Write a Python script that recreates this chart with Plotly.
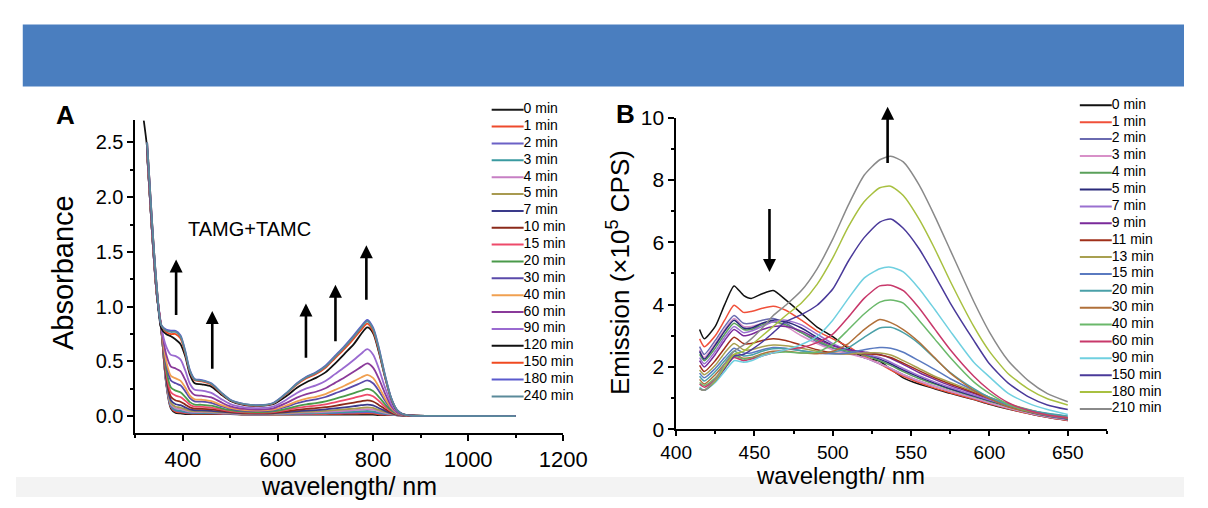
import plotly.graph_objects as go

W, H = 1208, 508

# ---------------- Panel A data (absorbance) ----------------
WL_A = [318, 325, 335, 345, 355, 365, 375, 385, 395, 405, 415, 425, 440, 460, 480, 500, 530, 560, 590,
        620, 640, 660, 680, 700, 720, 740, 760, 775, 788, 800, 812, 825, 838, 850, 862, 880, 920, 1100]
LABELS_A = ["0 min", "1 min", "2 min", "3 min", "4 min", "5 min", "7 min", "10 min", "15 min", "20 min",
            "30 min", "40 min", "60 min", "90 min", "120 min", "150 min", "180 min", "240 min"]
COLORS_A = ["#1a1a1a", "#ee4a2c", "#6b61c6", "#3a9aa0", "#c77fc4", "#a89a50", "#3a3a8a", "#8b2a1a",
            "#ee4a6a", "#4a9a4a", "#5a4aaa", "#f0a050", "#8a3a9a", "#9a6ad0", "#111111", "#f04a20",
            "#5a5acd", "#5a8a9a"]
a0 = [None, 2.40, 1.70, 1.12, 0.78, 0.30, 0.07, 0.03, 0.025, 0.02, 0.02, 0.02, 0.02, 0.02, 0.02, 0.02, 0.015, 0.015, 0.015, 0.015, 0.015, 0.015, 0.015, 0.015, 0.015, 0.015, 0.015, 0.015, 0.015, 0.015, 0.01, 0.01, 0.01, 0.008, 0.006, 0.004, 0.002, 0.0]
a1 = [None, 2.40, 1.70, 1.12, 0.78, 0.31, 0.08, 0.04, 0.034, 0.027, 0.025, 0.024, 0.024, 0.023, 0.022, 0.022, 0.016, 0.016, 0.016, 0.017, 0.018, 0.019, 0.02, 0.02, 0.021, 0.023, 0.024, 0.025, 0.025, 0.025, 0.017, 0.014, 0.012, 0.009, 0.006, 0.004, 0.002, 0.0]
a2 = [None, 2.40, 1.70, 1.12, 0.78, 0.31, 0.088, 0.049, 0.043, 0.035, 0.03, 0.028, 0.028, 0.027, 0.025, 0.023, 0.017, 0.017, 0.018, 0.02, 0.022, 0.024, 0.025, 0.026, 0.028, 0.031, 0.033, 0.035, 0.037, 0.035, 0.026, 0.019, 0.014, 0.009, 0.006, 0.004, 0.002, 0.0]
a3 = [None, 2.40, 1.70, 1.12, 0.78, 0.318, 0.096, 0.058, 0.051, 0.041, 0.035, 0.032, 0.031, 0.03, 0.027, 0.025, 0.019, 0.018, 0.019, 0.023, 0.026, 0.028, 0.029, 0.031, 0.035, 0.038, 0.042, 0.045, 0.047, 0.044, 0.033, 0.024, 0.016, 0.01, 0.007, 0.004, 0.002, 0.0]
a4 = [None, 2.41, 1.71, 1.12, 0.78, 0.327, 0.109, 0.071, 0.064, 0.052, 0.042, 0.038, 0.037, 0.035, 0.031, 0.027, 0.02, 0.02, 0.021, 0.026, 0.031, 0.034, 0.036, 0.039, 0.044, 0.049, 0.055, 0.059, 0.063, 0.059, 0.044, 0.03, 0.019, 0.011, 0.007, 0.004, 0.002, 0.0]
a5 = [None, 2.41, 1.71, 1.13, 0.78, 0.337, 0.123, 0.086, 0.079, 0.064, 0.05, 0.044, 0.043, 0.041, 0.035, 0.03, 0.022, 0.021, 0.023, 0.03, 0.036, 0.041, 0.044, 0.048, 0.055, 0.062, 0.069, 0.075, 0.08, 0.075, 0.057, 0.038, 0.022, 0.012, 0.007, 0.004, 0.002, 0.0]
a7 = [None, 2.41, 1.71, 1.13, 0.785, 0.35, 0.145, 0.109, 0.10, 0.081, 0.062, 0.054, 0.053, 0.049, 0.041, 0.034, 0.025, 0.024, 0.026, 0.037, 0.045, 0.051, 0.055, 0.062, 0.071, 0.081, 0.091, 0.10, 0.106, 0.098, 0.075, 0.049, 0.027, 0.013, 0.007, 0.004, 0.002, 0.0]
a10 = [None, 2.42, 1.72, 1.13, 0.79, 0.374, 0.177, 0.143, 0.132, 0.107, 0.08, 0.068, 0.067, 0.062, 0.05, 0.04, 0.029, 0.028, 0.031, 0.046, 0.058, 0.067, 0.073, 0.082, 0.095, 0.109, 0.124, 0.136, 0.145, 0.134, 0.103, 0.066, 0.034, 0.016, 0.008, 0.004, 0.002, 0.0]
a15 = [None, 2.42, 1.72, 1.14, 0.79, 0.40, 0.219, 0.188, 0.175, 0.142, 0.104, 0.087, 0.085, 0.079, 0.062, 0.047, 0.035, 0.033, 0.037, 0.058, 0.075, 0.087, 0.096, 0.108, 0.127, 0.146, 0.167, 0.184, 0.197, 0.182, 0.14, 0.088, 0.044, 0.019, 0.009, 0.004, 0.002, 0.0]
a20 = [None, 2.43, 1.73, 1.14, 0.79, 0.432, 0.262, 0.233, 0.218, 0.177, 0.128, 0.106, 0.104, 0.096, 0.074, 0.055, 0.041, 0.038, 0.043, 0.07, 0.092, 0.108, 0.119, 0.135, 0.159, 0.184, 0.211, 0.232, 0.249, 0.23, 0.177, 0.11, 0.053, 0.022, 0.01, 0.004, 0.002, 0.0]
a30 = [None, 2.44, 1.74, 1.15, 0.80, 0.476, 0.326, 0.30, 0.282, 0.229, 0.164, 0.135, 0.132, 0.121, 0.092, 0.067, 0.049, 0.046, 0.053, 0.089, 0.118, 0.139, 0.154, 0.175, 0.208, 0.24, 0.276, 0.305, 0.326, 0.301, 0.233, 0.143, 0.068, 0.027, 0.011, 0.004, 0.002, 0.0]
a40 = [None, 2.44, 1.74, 1.15, 0.80, 0.506, 0.368, 0.345, 0.325, 0.264, 0.188, 0.154, 0.15, 0.138, 0.104, 0.075, 0.055, 0.051, 0.059, 0.101, 0.135, 0.16, 0.177, 0.202, 0.24, 0.278, 0.32, 0.353, 0.378, 0.349, 0.27, 0.165, 0.077, 0.03, 0.012, 0.004, 0.002, 0.0]
a60 = [None, 2.45, 1.75, 1.16, 0.81, 0.565, 0.453, 0.435, 0.411, 0.333, 0.236, 0.193, 0.187, 0.171, 0.128, 0.09, 0.066, 0.061, 0.072, 0.126, 0.169, 0.201, 0.223, 0.255, 0.304, 0.353, 0.407, 0.45, 0.482, 0.444, 0.345, 0.21, 0.096, 0.036, 0.014, 0.005, 0.002, 0.0]
a90 = [None, 2.47, 1.77, 1.18, 0.81, 0.638, 0.56, 0.548, 0.518, 0.42, 0.296, 0.241, 0.234, 0.213, 0.158, 0.11, 0.081, 0.074, 0.087, 0.156, 0.212, 0.253, 0.281, 0.322, 0.384, 0.446, 0.515, 0.57, 0.612, 0.564, 0.438, 0.265, 0.12, 0.044, 0.016, 0.005, 0.002, 0.0]
a120 = [2.70, 2.45, 1.78, 1.18, 0.80, 0.75, 0.73, 0.70, 0.66, 0.55, 0.38, 0.30, 0.29, 0.27, 0.20, 0.14, 0.10, 0.095, 0.11, 0.19, 0.26, 0.31, 0.35, 0.40, 0.48, 0.57, 0.66, 0.75, 0.81, 0.76, 0.59, 0.36, 0.16, 0.055, 0.018, 0.005, 0.002, 0.0]
a150 = [None, 2.50, 1.80, 1.20, 0.83, 0.77, 0.75, 0.75, 0.711, 0.577, 0.404, 0.327, 0.318, 0.289, 0.212, 0.145, 0.106, 0.097, 0.116, 0.212, 0.289, 0.346, 0.385, 0.442, 0.529, 0.615, 0.711, 0.788, 0.845, 0.778, 0.605, 0.365, 0.164, 0.058, 0.019, 0.005, 0.002, 0.0]
a180 = [None, 2.50, 1.80, 1.20, 0.83, 0.79, 0.78, 0.78, 0.74, 0.60, 0.42, 0.34, 0.33, 0.30, 0.22, 0.15, 0.11, 0.10, 0.12, 0.22, 0.30, 0.36, 0.40, 0.46, 0.55, 0.64, 0.74, 0.82, 0.88, 0.81, 0.63, 0.38, 0.17, 0.06, 0.02, 0.005, 0.002, 0.0]
a240 = [None, 2.50, 1.80, 1.20, 0.83, 0.783, 0.769, 0.769, 0.729, 0.591, 0.414, 0.335, 0.325, 0.296, 0.217, 0.148, 0.109, 0.099, 0.118, 0.217, 0.296, 0.355, 0.394, 0.453, 0.542, 0.631, 0.729, 0.808, 0.867, 0.798, 0.621, 0.374, 0.168, 0.059, 0.02, 0.005, 0.002, 0.0]
SERIES_A = [a0, a1, a2, a3, a4, a5, a7, a10, a15, a20, a30, a40, a60, a90, a120, a150, a180, a240]

# arrows in A: (wavelength, tail value, head value)
ARROWS_A = [(386, 0.91, 1.43), (462, 0.42, 0.96), (659, 0.52, 1.03), (721, 0.67, 1.20), (786, 1.05, 1.56)]

# ---------------- Panel B data (emission, x1e5 CPS) ----------------
WL_B = [415, 418, 425, 431, 437, 443, 448, 455, 462, 470, 480, 490, 500, 510, 520, 530, 537, 545, 555,
        565, 575, 590, 600, 612, 625, 637, 650]
LABELS_B = ["0 min", "1 min", "2 min", "3 min", "4 min", "5 min", "7 min", "9 min", "11 min", "13 min",
            "15 min", "20 min", "30 min", "40 min", "60 min", "90 min", "150 min", "180 min", "210 min"]
COLORS_B = ["#111111", "#f0503a", "#6a6ab0", "#d890c8", "#5aa05a", "#2a2a7a", "#9a70d0", "#7a2a9a",
            "#a0301a", "#a8a050", "#5a7ac0", "#4aa0a8", "#b0703a", "#6ab86a", "#c8386a", "#70d0e0",
            "#4a3a9a", "#a8c040", "#8a8a8a"]
b0 = [3.2, 2.9, 3.3, 4.0, 4.6, 4.3, 4.2, 4.35, 4.45, 4.15, 3.72, 3.28, 2.97, 2.6, 2.3, 2.18, 1.92, 1.65, 1.45, 1.3, 1.15, 0.95, 0.8, 0.65, 0.5, 0.38, 0.28]
b1 = [2.9, 2.65, 3.0, 3.5, 3.98, 3.75, 3.78, 3.88, 3.95, 3.82, 3.5, 3.15, 2.9, 2.65, 2.35, 2.1, 1.9, 1.7, 1.5, 1.32, 1.17, 0.96, 0.82, 0.66, 0.5, 0.38, 0.28]
b2 = [2.65, 2.4, 2.85, 3.3, 3.65, 3.4, 3.4, 3.5, 3.55, 3.4, 3.1, 2.8, 2.6, 2.45, 2.3, 2.1, 1.95, 1.75, 1.55, 1.38, 1.22, 1.0, 0.85, 0.68, 0.52, 0.4, 0.3]
b3 = [2.55, 2.3, 2.75, 3.2, 3.55, 3.3, 3.3, 3.4, 3.45, 3.3, 3.0, 2.75, 2.55, 2.42, 2.3, 2.1, 1.95, 1.75, 1.55, 1.38, 1.22, 1.0, 0.85, 0.68, 0.52, 0.4, 0.3]
b4 = [2.4, 2.2, 2.6, 3.05, 3.4, 3.2, 3.2, 3.35, 3.45, 3.35, 3.1, 2.85, 2.62, 2.5, 2.38, 2.2, 2.05, 1.85, 1.63, 1.45, 1.28, 1.05, 0.9, 0.72, 0.55, 0.42, 0.32]
b5 = [2.5, 2.25, 2.7, 3.15, 3.5, 3.25, 3.25, 3.4, 3.5, 3.45, 3.25, 2.95, 2.7, 2.55, 2.42, 2.25, 2.1, 1.9, 1.68, 1.48, 1.3, 1.07, 0.92, 0.74, 0.56, 0.43, 0.33]
b7 = [2.3, 2.1, 2.5, 2.95, 3.3, 3.1, 3.15, 3.3, 3.45, 3.5, 3.35, 3.05, 2.75, 2.55, 2.42, 2.3, 2.15, 1.95, 1.72, 1.52, 1.34, 1.1, 0.94, 0.76, 0.58, 0.44, 0.34]
b9 = [2.2, 2.0, 2.4, 2.85, 3.2, 3.0, 3.05, 3.2, 3.3, 3.3, 3.15, 2.9, 2.68, 2.55, 2.48, 2.4, 2.28, 2.08, 1.82, 1.6, 1.4, 1.15, 0.98, 0.79, 0.6, 0.46, 0.35]
b11 = [2.05, 1.85, 2.2, 2.6, 2.95, 2.75, 2.75, 2.85, 2.9, 2.85, 2.7, 2.55, 2.45, 2.42, 2.42, 2.38, 2.3, 2.12, 1.88, 1.65, 1.45, 1.18, 1.0, 0.8, 0.61, 0.47, 0.36]
b13 = [1.9, 1.75, 2.05, 2.45, 2.75, 2.55, 2.55, 2.65, 2.7, 2.68, 2.6, 2.5, 2.42, 2.42, 2.45, 2.45, 2.38, 2.2, 1.95, 1.7, 1.5, 1.22, 1.03, 0.82, 0.63, 0.48, 0.37]
b15 = [1.8, 1.65, 1.95, 2.3, 2.6, 2.45, 2.45, 2.55, 2.62, 2.6, 2.52, 2.45, 2.42, 2.45, 2.55, 2.62, 2.6, 2.47, 2.2, 1.92, 1.62, 1.25, 1.02, 0.8, 0.62, 0.5, 0.42]
b20 = [1.7, 1.55, 1.85, 2.2, 2.5, 2.35, 2.38, 2.5, 2.58, 2.58, 2.52, 2.45, 2.48, 2.62, 2.95, 3.25, 3.27, 3.1, 2.75, 2.28, 1.82, 1.3, 1.02, 0.78, 0.62, 0.51, 0.42]
b30 = [1.6, 1.45, 1.75, 2.1, 2.4, 2.28, 2.3, 2.42, 2.5, 2.5, 2.45, 2.42, 2.5, 2.75, 3.2, 3.52, 3.42, 3.2, 2.8, 2.3, 1.8, 1.25, 0.98, 0.72, 0.56, 0.45, 0.37]
b40 = [1.5, 1.4, 1.65, 2.0, 2.35, 2.25, 2.28, 2.38, 2.45, 2.48, 2.45, 2.48, 2.72, 3.2, 3.7, 4.08, 4.15, 4.05, 3.5, 2.9, 2.3, 1.52, 1.15, 0.8, 0.58, 0.46, 0.37]
b60 = [1.45, 1.35, 1.6, 1.95, 2.3, 2.2, 2.25, 2.35, 2.45, 2.55, 2.62, 2.78, 3.05, 3.6, 4.2, 4.6, 4.62, 4.45, 3.9, 3.22, 2.55, 1.7, 1.25, 0.85, 0.6, 0.46, 0.37]
b90 = [1.35, 1.25, 1.5, 1.85, 2.2, 2.15, 2.2, 2.35, 2.45, 2.55, 2.72, 2.98, 3.5, 4.2, 4.85, 5.15, 5.2, 5.05, 4.52, 3.85, 3.15, 2.15, 1.68, 1.15, 0.83, 0.63, 0.47]
b150 = [1.3, 1.25, 1.55, 1.95, 2.35, 2.4, 2.55, 2.8, 3.1, 3.45, 3.68, 3.98, 4.5, 5.4, 6.15, 6.65, 6.75, 6.45, 5.8, 4.95, 4.05, 2.85, 2.1, 1.48, 1.04, 0.78, 0.63]
b180 = [1.3, 1.25, 1.55, 2.0, 2.4, 2.5, 2.7, 3.0, 3.3, 3.65, 4.05, 4.65, 5.5, 6.5, 7.3, 7.75, 7.8, 7.5, 6.75, 5.8, 4.75, 3.3, 2.5, 1.78, 1.29, 0.98, 0.78]
b210 = [1.3, 1.25, 1.6, 2.1, 2.5, 2.7, 2.9, 3.25, 3.65, 3.98, 4.45, 5.15, 6.1, 7.2, 8.15, 8.65, 8.76, 8.58, 7.85, 6.85, 5.75, 4.1, 3.12, 2.2, 1.55, 1.14, 0.88]
SERIES_B = [b0, b1, b2, b3, b4, b5, b7, b9, b11, b13, b15, b20, b30, b40, b60, b90, b150, b180, b210]

# arrows in B: (wavelength, tail value, head value)
ARROWS_B = [(535, 8.5, 10.35), (459.6, 7.12, 5.05)]

FONT = "Arial, Liberation Sans, sans-serif"


def px(xp):
    return xp / W


def py(yp):
    return 1 - yp / H


fig = go.Figure()

for lab, col, ys in zip(LABELS_A, COLORS_A, SERIES_A):
    fig.add_trace(go.Scatter(x=WL_A, y=ys, mode="lines", name=lab, xaxis="x", yaxis="y",
                             line=dict(color=col, width=1.8, shape="spline", smoothing=0.8),
                             showlegend=False, hoverinfo="skip"))

for lab, col, ys in zip(LABELS_B, COLORS_B, SERIES_B):
    fig.add_trace(go.Scatter(x=WL_B, y=ys, mode="lines", name=lab, xaxis="x2", yaxis="y2",
                             line=dict(color=col, width=1.5, shape="spline", smoothing=0.6),
                             showlegend=False, hoverinfo="skip"))

# legend panels drawn in their own small axes (one row per series)
LEG_LINE = 33.3
for i, (lab, col) in enumerate(zip(LABELS_A, COLORS_A)):
    fig.add_trace(go.Scatter(x=[0, LEG_LINE], y=[i, i], mode="lines", xaxis="x3", yaxis="y3",
                             line=dict(color=col, width=2), showlegend=False, hoverinfo="skip"))
fig.add_trace(go.Scatter(x=[LEG_LINE] * len(LABELS_A), y=list(range(len(LABELS_A))), mode="text",
                         text=LABELS_A, textposition="middle right", xaxis="x3", yaxis="y3",
                         textfont=dict(size=14, color="black", family=FONT),
                         showlegend=False, hoverinfo="skip"))
for i, (lab, col) in enumerate(zip(LABELS_B, COLORS_B)):
    fig.add_trace(go.Scatter(x=[0, LEG_LINE], y=[i, i], mode="lines", xaxis="x4", yaxis="y4",
                             line=dict(color=col, width=2), showlegend=False, hoverinfo="skip"))
fig.add_trace(go.Scatter(x=[LEG_LINE] * len(LABELS_B), y=list(range(len(LABELS_B))), mode="text",
                         text=LABELS_B, textposition="middle right", xaxis="x4", yaxis="y4",
                         textfont=dict(size=14, color="black", family=FONT),
                         showlegend=False, hoverinfo="skip"))

axis_common = dict(showline=True, linecolor="black", linewidth=1.5, ticks="outside",
                   tickwidth=1.5, tickcolor="black", showgrid=False, zeroline=False, mirror=False)

nA, nB = len(LABELS_A), len(LABELS_B)
rowA, rowB = 17.67, 17.67
topA, topB = 102.3 - rowA / 2, 97.7 - rowB / 2

fig.update_layout(
    width=W, height=H, autosize=False, margin=dict(l=0, r=0, t=0, b=0),
    paper_bgcolor="white", plot_bgcolor="rgba(0,0,0,0)",
    font=dict(family=FONT, color="black"), hovermode=False,
    xaxis=dict(domain=[px(123.3), px(566)], range=[300, 1200], tick0=0, dtick=200, anchor="y",
               ticklen=6, tickfont=dict(size=22),
               minor=dict(dtick=100, ticks="outside", ticklen=3, tickcolor="black", showgrid=False),
               **axis_common),
    yaxis=dict(domain=[py(441), py(113.3)], range=[-0.154, 2.703], tick0=0, dtick=0.5,
               tickformat=".1f", anchor="x", ticklen=6, tickfont=dict(size=20),
               minor=dict(dtick=0.25, ticks="outside", ticklen=3, tickcolor="black", showgrid=False),
               **axis_common),
    xaxis2=dict(domain=[px(682.7), px(1128.3)], range=[400, 675], tick0=400, dtick=50, anchor="y2",
                ticklen=5, tickfont=dict(size=19),
                minor=dict(dtick=25, ticks="outside", ticklen=3, tickcolor="black", showgrid=False),
                **axis_common),
    yaxis2=dict(domain=[py(437), py(110.7)], range=[0, 10], tick0=0, dtick=2, anchor="x2",
                ticklen=6, tickfont=dict(size=21),
                minor=dict(dtick=1, ticks="outside", ticklen=3, tickcolor="black", showgrid=False),
                **axis_common),
    xaxis3=dict(domain=[px(491.7), px(600)], range=[0, 108.3], visible=False, anchor="y3"),
    yaxis3=dict(domain=[py(topA + nA * rowA), py(topA)], range=[nA - 0.5, -0.5], visible=False,
                anchor="x3"),
    xaxis4=dict(domain=[px(1100), px(1208)], range=[0, 108], visible=False, anchor="y4"),
    yaxis4=dict(domain=[py(topB + nB * rowB), py(topB)], range=[nB - 0.5, -0.5], visible=False,
                anchor="x4"),
)

shapes = [
    dict(type="rect", xref="paper", yref="paper", x0=px(7), x1=1.0, y0=py(78), y1=py(13),
         fillcolor="#4a7ebf", line=dict(width=0), layer="below"),
    dict(type="rect", xref="paper", yref="paper", x0=0, x1=1.0, y0=0, y1=py(487),
         fillcolor="#f3f3f3", line=dict(width=0), layer="below"),
]
fig.update_layout(shapes=shapes)

ann = []
for lam, y0, y1 in ARROWS_A:
    ann.append(dict(x=lam, y=y1, ax=lam, ay=y0, xref="x", yref="y", axref="x", ayref="y",
                    showarrow=True, arrowhead=2, arrowsize=1, arrowwidth=2.6, arrowcolor="black", text=""))
for lam, y0, y1 in ARROWS_B:
    ann.append(dict(x=lam, y=y1, ax=lam, ay=y0, xref="x2", yref="y2", axref="x2", ayref="y2",
                    showarrow=True, arrowhead=2, arrowsize=1, arrowwidth=2.6, arrowcolor="black", text=""))

ann += [
    dict(text="<b>A</b>", x=px(51), y=py(108), xref="paper", yref="paper", showarrow=False,
         font=dict(size=26, color="black"), xanchor="center", yanchor="middle"),
    dict(text="<b>B</b>", x=px(630), y=py(107), xref="paper", yref="paper", showarrow=False,
         font=dict(size=26, color="black"), xanchor="center", yanchor="middle"),
    dict(text="TAMG+TAMC", x=540, y=1.71, xref="x", yref="y", showarrow=False,
         font=dict(size=20, color="black"), xanchor="center", yanchor="middle"),
    dict(text="Absorbance", x=px(48), y=py(273), xref="paper", yref="paper", showarrow=False,
         textangle=-90, font=dict(size=29, color="black"), xanchor="center", yanchor="middle"),
    dict(text="wavelength/ nm", x=px(344), y=py(497), xref="paper", yref="paper", showarrow=False,
         font=dict(size=25, color="black"), xanchor="center", yanchor="middle"),
    dict(text="Emission (×10<sup>5</sup> CPS)", x=px(623), y=py(273), xref="paper", yref="paper",
         showarrow=False, textangle=-90, font=dict(size=26, color="black"),
         xanchor="center", yanchor="middle"),
    dict(text="wavelength/ nm", x=px(853), y=py(485), xref="paper", yref="paper", showarrow=False,
         font=dict(size=24, color="black"), xanchor="center", yanchor="middle"),
]
fig.update_layout(annotations=ann)

fig.write_html("out.html", config={"displayModeBar": False},
               post_script="document.body.style.margin='0';document.body.style.overflow='hidden';")
